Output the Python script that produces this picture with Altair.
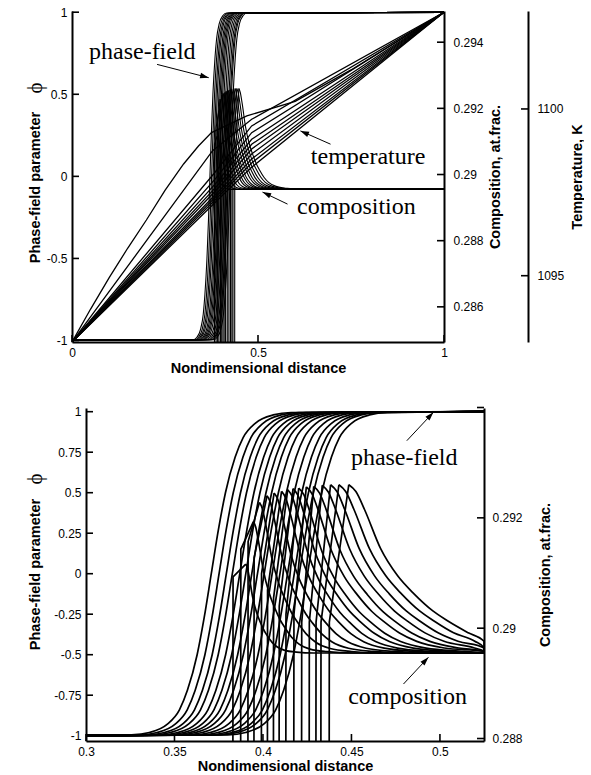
import math
import altair as alt
import pandas as pd

# ---------------- data ----------------
# phase-field profile shape (offset from the phi=0 crossing, phi value)
PF_DX = [-0.60, -0.045, -0.035, -0.025, -0.018, -0.0135, -0.008, -0.004, 0.0,
         0.004, 0.008, 0.0135, 0.018, 0.025, 0.035, 0.045, 0.70]
PF_PHI = [-1.0, -0.995, -0.98, -0.93, -0.84, -0.72, -0.50, -0.27, 0.0,
          0.27, 0.50, 0.72, 0.84, 0.93, 0.98, 0.995, 1.0]
# phi = 0 crossing of each phase-field curve
PF_CENTER = [0.3708, 0.3752, 0.3793, 0.3827, 0.3869, 0.3903, 0.3937, 0.3969,
             0.4007, 0.4052, 0.4096, 0.4139, 0.4177, 0.4205, 0.4252]

# composition curves: steep rise, peak, decay to far field
COMP_XV = [0.3828, 0.3872, 0.3913, 0.3947, 0.3989, 0.4023, 0.4057, 0.4089,
           0.4127, 0.4172, 0.4216, 0.4259, 0.4297, 0.4325, 0.4372]
COMP_VTOP = [0.29093, 0.29143, 0.29157, 0.29128, 0.29099, 0.29069, 0.29055, 0.29040,
             0.29025, 0.29025, 0.29011, 0.29011, 0.29011, 0.29011, 0.29011]
COMP_PX = [0.3903, 0.3946, 0.3980, 0.4023, 0.4063, 0.4105, 0.4140, 0.4170,
           0.4202, 0.4245, 0.4287, 0.4335, 0.4382, 0.4429, 0.4485]
COMP_PC = [0.29116, 0.29193, 0.29228, 0.29240, 0.29245, 0.29248, 0.29251, 0.29253,
           0.29254, 0.29256, 0.29257, 0.29259, 0.29260, 0.29260, 0.29260]
COMP_L = [0.011, 0.016, 0.020, 0.023, 0.026, 0.029, 0.031, 0.034,
          0.036, 0.039, 0.041, 0.043, 0.045, 0.048, 0.050]
DECAY_S = [0.08, 0.18, 0.36, 0.55, 0.74, 0.95, 1.12, 1.35, 1.6, 2.0, 2.6, 3.5]
DECAY_F = [0.96, 0.85, 0.62, 0.46, 0.35, 0.25, 0.19, 0.12, 0.07, 0.03, 0.01, 0.0]
C_SOLID = 0.2800
C_INF = 0.28955

# temperature profiles (K)
TEMP_X = [
    [0, 0.05, 0.1, 0.15, 0.2, 0.25, 0.3, 0.34, 0.375, 0.47, 0.6, 0.75, 1.0],
    [0, 0.378, 0.483, 1.0],
    [0, 0.383, 0.483, 1.0],
    [0, 0.388, 0.483, 1.0],
    [0, 0.393, 0.483, 1.0],
    [0, 0.398, 0.483, 1.0],
    [0, 0.403, 0.483, 1.0],
    [0, 0.410, 0.483, 1.0],
    [0, 0.417, 0.483, 1.0],
    [0, 0.425, 0.483, 1.0],
    [0, 0.435, 0.483, 1.0],
]
TEMP_K = [
    [1093.01, 1094.00, 1094.94, 1095.83, 1096.67, 1097.56, 1098.35, 1098.89,
     1099.29, 1099.79, 1100.23, 1101.17, 1102.90],
    [1093.01, 1098.75, 1099.69, 1102.90],
    [1093.01, 1098.08, 1099.49, 1102.90],
    [1093.01, 1097.94, 1099.29, 1102.90],
    [1093.01, 1097.85, 1099.09, 1102.90],
    [1093.01, 1097.79, 1098.94, 1102.90],
    [1093.01, 1097.75, 1098.80, 1102.90],
    [1093.01, 1097.71, 1098.65, 1102.90],
    [1093.01, 1097.71, 1098.50, 1102.90],
    [1093.01, 1097.72, 1098.38, 1102.90],
    [1093.01, 1097.74, 1098.25, 1102.90],
]

TOP_X_TICKS = [0, 0.5, 1]
TOP_PHI_TICKS = [-1, -0.5, 0, 0.5, 1]
TOP_COMP_TICKS = [0.286, 0.288, 0.29, 0.292, 0.294]
TOP_TEMP_TICKS = [1095, 1100]
BOT_X_TICKS = [0.3, 0.35, 0.4, 0.45, 0.5]
BOT_PHI_TICKS = [-1, -0.75, -0.5, -0.25, 0, 0.25, 0.5, 0.75, 1]
BOT_COMP_TICKS = [0.288, 0.29, 0.292, 0.294]

# ---------------- tables ----------------
pf_rows = []
for i, c in enumerate(PF_CENTER):
    for k, (dx, p) in enumerate(zip(PF_DX, PF_PHI)):
        pf_rows.append({"curve": i, "k": k, "x": c + dx, "v": p})
pf_df = pd.DataFrame(pf_rows)

rise_rows, decay_rows = [], []
for i in range(len(COMP_XV)):
    rise = [(COMP_XV[i], C_SOLID), (COMP_XV[i] + 0.0003, COMP_VTOP[i]), (COMP_PX[i], COMP_PC[i])]
    decay = [(COMP_PX[i], COMP_PC[i])]
    for s, f in zip(DECAY_S, DECAY_F):
        decay.append((COMP_PX[i] + s * COMP_L[i], C_INF + f * (COMP_PC[i] - C_INF)))
    decay.append((1.0, C_INF))
    for k, (x, v) in enumerate(rise):
        rise_rows.append({"curve": i, "k": k, "x": x, "v": v})
    for k, (x, v) in enumerate(decay):
        decay_rows.append({"curve": i, "k": k, "x": x, "v": v})
rise_df = pd.DataFrame(rise_rows)
decay_df = pd.DataFrame(decay_rows)

temp_rows = []
for i, (xs, ts) in enumerate(zip(TEMP_X, TEMP_K)):
    for k, (x, t) in enumerate(zip(xs, ts)):
        temp_rows.append({"curve": i, "k": k, "x": x, "v": t})
temp_df = pd.DataFrame(temp_rows)

# ---------------- styling ----------------
SANS = "Liberation Sans"
SERIF = "Liberation Serif"
LAB = dict(labelFont=SANS, labelFontSize=12, labelColor="black",
           titleFont=SANS, titleFontSize=14.5, titleFontWeight="bold", titleColor="black",
           domainColor="black", domainWidth=2, ticks=False, grid=False,
           labelExpr="'' + datum.value")
ARROW = "M0,0L-1,-0.32L-1,0.32Z"


def sc(d, rng=None, clamp=False):
    if rng is None:
        return alt.Scale(domain=d, nice=False, zero=False)
    return alt.Scale(domain=d, range=rng, nice=False, zero=False, clamp=clamp)


def lines(df, xs, xa, ys, ya, sw, interp="monotone"):
    return alt.Chart(df).mark_line(color="black", strokeWidth=sw, clip=True,
                                   interpolate=interp).encode(
        x=alt.X("x:Q", scale=xs, axis=xa),
        y=alt.Y("v:Q", scale=ys, axis=ya),
        detail="curve:N",
        order=alt.Order("k:Q"))


def comp_lines(xs, xa, ys, ya, sw):
    return alt.layer(
        lines(rise_df, xs, xa, ys, ya, sw, "linear"),
        lines(decay_df, xs, xa, ys, ya, sw, "monotone"),
    )


def yticks(vals, ys, x0, x1):
    return alt.Chart(pd.DataFrame({"v": vals})).mark_rule(
        color="black", strokeWidth=1.6).encode(
        y=alt.Y("v:Q", scale=ys, axis=None), x=alt.value(x0), x2=alt.value(x1))


def xticks(vals, xs, xa, h):
    return alt.Chart(pd.DataFrame({"v": vals})).mark_rule(
        color="black", strokeWidth=1.6).encode(
        x=alt.X("v:Q", scale=xs, axis=xa), y=alt.value(h), y2=alt.value(h - 7))


def phi_glyph(px, py):
    return alt.Chart(pd.DataFrame({"t": ["\u03d5"]})).mark_text(
        font=SERIF, fontSize=21, angle=270, align="center", baseline="middle",
        color="black").encode(x=alt.value(px), y=alt.value(py), text="t:N")


def annotations(texts, arrows, xs, xa, ys, w, h):
    tdf = pd.DataFrame(texts, columns=["t", "x", "y"])
    txt = alt.Chart(tdf).mark_text(font=SERIF, fontSize=24, align="center",
                                   baseline="alphabetic", color="black").encode(
        x=alt.X("x:Q", scale=xs, axis=xa), y=alt.Y("y:Q", scale=ys, axis=None), text="t:N")
    rows = []
    xd, yd = xs.domain, ys.domain
    for (x1, y1, x2, y2) in arrows:
        dx = (x2 - x1) / (xd[1] - xd[0]) * w
        dy = -(y2 - y1) / (yd[1] - yd[0]) * h
        ang = math.degrees(math.atan2(dy, dx)) % 360
        rows.append({"x1": x1, "y1": y1, "x2": x2, "y2": y2, "ang": ang})
    adf = pd.DataFrame(rows)
    shaft = alt.Chart(adf).mark_rule(color="black", strokeWidth=1).encode(
        x=alt.X("x1:Q", scale=xs, axis=xa), x2="x2:Q",
        y=alt.Y("y1:Q", scale=ys, axis=None), y2="y2:Q")
    head = alt.Chart(adf).mark_point(shape=ARROW, filled=True, color="black", size=300,
                                     opacity=1, strokeWidth=0).encode(
        x=alt.X("x2:Q", scale=xs, axis=xa), y=alt.Y("y2:Q", scale=ys, axis=None),
        angle=alt.Angle("ang:Q", scale=None))
    return [txt, shaft, head]


# ---------------- top panel ----------------
TW, TH = 372, 331
tx = sc([0, 1])
tphi = sc([-1.009, 1.0073])
tcomp = sc([0.284937, 0.294943])
ttemp = sc([1093.012, 1102.937])
txa = alt.Axis(values=TOP_X_TICKS, title="Nondimensional distance", labelPadding=5,
               titlePadding=3, labelFlush=False, **LAB)
tphia = alt.Axis(orient="left", values=TOP_PHI_TICKS, title="Phase-field parameter",
                 labelPadding=5, minExtent=26, maxExtent=26, titlePadding=4,
                 titleY=176, **LAB)
tcompa = alt.Axis(orient="right", values=TOP_COMP_TICKS, title="Composition,  at.frac.",
                  labelPadding=9, minExtent=38, maxExtent=38, titlePadding=6,
                  titleAngle=270, titleBaseline="top", **LAB)
ttempa = alt.Axis(orient="right", offset=84, values=TOP_TEMP_TICKS, title="Temperature, K",
                  labelPadding=9, minExtent=36, maxExtent=36, titlePadding=6,
                  titleAngle=270, titleBaseline="top", **LAB)

top_layers = [
    lines(pf_df, tx, txa, tphi, tphia, 1.1),
    comp_lines(tx, txa, tcomp, tcompa, 1.1),
    lines(temp_df, tx, txa, ttemp, ttempa, 1.3, "linear"),
    yticks(TOP_PHI_TICKS, tphi, 0, 7),
    yticks(TOP_COMP_TICKS, tcomp, TW - 7, TW),
    yticks(TOP_TEMP_TICKS, ttemp, TW + 84 - 7, TW + 84),
    xticks(TOP_X_TICKS, tx, txa, TH),
    phi_glyph(-36, 77),
]
top_layers += annotations(
    [("phase-field", 0.189, 0.712), ("temperature", 0.796, 0.074), ("composition", 0.7646, -0.23)],
    [(0.2287, 0.682, 0.3676, 0.601), (0.695, 0.196, 0.614, 0.277), (0.5794, -0.169, 0.5121, -0.096)],
    tx, txa, tphi, TW, TH)
top = alt.layer(*top_layers).resolve_scale(y="independent").properties(width=TW, height=TH)

# ---------------- bottom panel ----------------
# the bottom plot area starts 14 px right of the top one
BSHIFT = 14
BW, BH = 398, 333
bx = sc([0.3, 0.5249], [BSHIFT, BSHIFT + BW], clamp=True)
bphi = sc([-1.0327, 1.0228])
bcomp = sc([0.287955, 0.293991])
bxa = alt.Axis(values=BOT_X_TICKS, title="Nondimensional distance", labelPadding=5,
               titlePadding=2, labelFlush=False, **LAB)
bphia = alt.Axis(orient="left", offset=-BSHIFT, values=BOT_PHI_TICKS,
                 title="Phase-field parameter",
                 labelPadding=5, minExtent=40, maxExtent=40, titlePadding=4,
                 titleY=166, **LAB)
bcompa = alt.Axis(orient="right", values=BOT_COMP_TICKS, title="Composition,  at.frac.",
                  labelPadding=8, minExtent=48, maxExtent=48, titlePadding=6,
                  titleAngle=270, titleBaseline="top", **LAB)

bot_layers = [
    lines(pf_df, bx, bxa, bphi, bphia, 1.7),
    comp_lines(bx, bxa, bcomp, bcompa, 1.7),
    yticks(BOT_PHI_TICKS, bphi, BSHIFT, BSHIFT + 7),
    yticks(BOT_COMP_TICKS, bcomp, BSHIFT + BW - 7, BSHIFT + BW),
    xticks(BOT_X_TICKS, bx, bxa, BH),
    phi_glyph(-36, 71),
]
bot_layers += annotations(
    [("phase-field", 0.4798, 0.671), ("composition", 0.4817, -0.804)],
    [(0.4813, 0.821, 0.4963, 0.996), (0.4794, -0.681, 0.4935, -0.516)],
    bx, bxa, bphi, BW, BH)
bottom = alt.layer(*bot_layers).resolve_scale(y="independent").properties(
    width=BSHIFT + BW, height=BH)

chart = alt.vconcat(top, bottom, spacing=30).configure_view(
    stroke=None).properties(
    padding={"left": 25, "top": 6, "right": 0, "bottom": 0}, background="white")

chart.save("out.html", embed_options={"renderer": "svg", "actions": False})
